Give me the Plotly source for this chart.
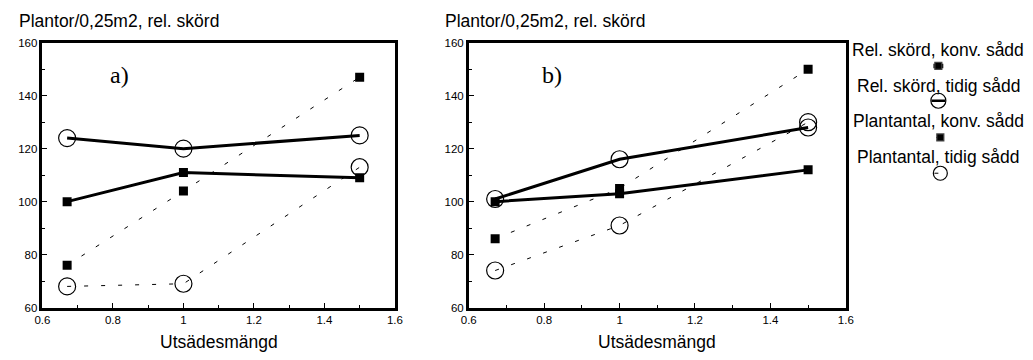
import plotly.graph_objects as go

x_vals = [0.67, 1.0, 1.5]

# Panel a)
a_rel_konv = [100, 111, 109]
a_rel_tidig = [124, 120, 125]
a_plant_konv = [76, 104, 147]
a_plant_tidig = [68, 69, 113]

# Panel b)
b_rel_konv = [100, 103, 112]
b_rel_tidig = [101, 116, 128]
b_plant_konv = [86, 105, 150]
b_plant_tidig = [74, 91, 130]

series_names = ["Rel. skörd, konv. sådd", "Rel. skörd, tidig sådd",
                "Plantantal, konv. sådd", "Plantantal, tidig sådd"]
panel_labels = ["a)", "b)"]
y_title = "Plantor/0,25m2, rel. skörd"
x_title = "Utsädesmängd"

W, H = 1033, 360
FONT = "Liberation Sans, Arial, sans-serif"
DASH = "4px,13px"
TXT = 17.5

fig = go.Figure()

def add_panel(xa, ya, rk, rt, pk, pt):
    fig.add_trace(go.Scatter(x=x_vals, y=pk, mode="lines+markers", xaxis=xa, yaxis=ya,
                             line=dict(color="black", width=1, dash=DASH),
                             marker=dict(symbol="square", size=9, color="black"),
                             showlegend=False))
    fig.add_trace(go.Scatter(x=x_vals, y=pt, mode="lines+markers", xaxis=xa, yaxis=ya,
                             line=dict(color="black", width=1, dash=DASH),
                             marker=dict(symbol="circle-open", size=17, color="black",
                                         line=dict(width=1.2)),
                             showlegend=False))
    fig.add_trace(go.Scatter(x=x_vals, y=rk, mode="lines+markers", xaxis=xa, yaxis=ya,
                             line=dict(color="black", width=3),
                             marker=dict(symbol="square", size=9, color="black"),
                             showlegend=False))
    fig.add_trace(go.Scatter(x=x_vals, y=rt, mode="lines+markers", xaxis=xa, yaxis=ya,
                             line=dict(color="black", width=3),
                             marker=dict(symbol="circle-open", size=17, color="black",
                                         line=dict(width=1.2)),
                             showlegend=False))

add_panel("x", "y", a_rel_konv, a_rel_tidig, a_plant_konv, a_plant_tidig)
add_panel("x2", "y2", b_rel_konv, b_rel_tidig, b_plant_konv, b_plant_tidig)

# legend glyphs on a hidden helper axis over the legend area, in pixel units
LX0 = 860
def leg_line(x0, x1, y, w):
    fig.add_trace(go.Scatter(x=[x0, x1], y=[y, y], mode="lines", xaxis="x3", yaxis="y3",
                             line=dict(color="black", width=w), showlegend=False))

def leg_marker(x, y, sym, size):
    fig.add_trace(go.Scatter(x=[x], y=[y], mode="markers", xaxis="x3", yaxis="y3",
                             marker=dict(symbol=sym, size=size, color="black", line=dict(width=1.2)),
                             showlegend=False))

leg_line(940, 950, 62, 4.5)
leg_marker(945, 62, "square", 7)
leg_line(938, 952, 98, 2.5)
leg_marker(945, 98, "circle-open", 15)
leg_line(943, 950, 136, 1)
leg_marker(947, 136, "square", 7)
leg_line(941, 945, 173, 1)
leg_marker(947, 173, "circle-open", 14)

def xaxis_cfg(domain):
    return dict(domain=domain, range=[0.6, 1.6], dtick=0.2, tick0=0.6,
                showgrid=False, zeroline=False, showline=True, linecolor="black",
                linewidth=2.5, mirror=True, ticks="inside", ticklen=5, tickwidth=1,
                tickcolor="black",
                minor=dict(dtick=0.1, ticks="inside", ticklen=3, tickcolor="black"),
                tickfont=dict(family=FONT, size=11.5, color="black"))

def yaxis_cfg(domain, anchor):
    return dict(domain=domain, range=[60, 160], dtick=20, anchor=anchor,
                showgrid=False, zeroline=False, showline=True, linecolor="black",
                linewidth=2.5, mirror=True, ticks="inside", ticklen=5, tickwidth=1,
                tickcolor="black",
                minor=dict(dtick=10, ticks="inside", ticklen=3, tickcolor="black"),
                tickfont=dict(family=FONT, size=11.5, color="black"))

ydom = [48 / H, 1 - 38 / H]
xdom1 = [35 / W, 393 / W]
xdom2 = [468 / W, 851 / W]

fig.update_layout(
    width=W, height=H,
    margin=dict(l=0, r=0, t=0, b=0),
    paper_bgcolor="white", plot_bgcolor="rgba(0,0,0,0)",
    xaxis=dict(**xaxis_cfg(xdom1), anchor="y"),
    yaxis=yaxis_cfg(ydom, "x"),
    xaxis2=dict(**xaxis_cfg(xdom2), anchor="y2"),
    yaxis2=yaxis_cfg(ydom, "x2"),
    xaxis3=dict(domain=[LX0 / W, 1], range=[LX0, W], visible=False, anchor="y3"),
    yaxis3=dict(domain=[0, 1], range=[H, 0], visible=False, anchor="x3"),
    showlegend=False,
)

annotations = []
for xd in (xdom1, xdom2):
    annotations.append(dict(x=xd[0] - 26 / W, y=1 - 16 / H, xref="paper", yref="paper",
                            text=y_title, showarrow=False, xanchor="left", yanchor="middle",
                            font=dict(family=FONT, size=TXT, color="black")))
    annotations.append(dict(x=(xd[0] + xd[1]) / 2, y=1 - 348 / H, xref="paper", yref="paper",
                            text=x_title, showarrow=False, xanchor="center", yanchor="middle",
                            font=dict(family=FONT, size=TXT, color="black")))
annotations.append(dict(x=0.82, y=148, xref="x", yref="y", text=panel_labels[0], showarrow=False,
                        font=dict(family="Liberation Serif, Times New Roman, serif", size=24, color="black")))
annotations.append(dict(x=0.82, y=148, xref="x2", yref="y2", text=panel_labels[1], showarrow=False,
                        font=dict(family="Liberation Serif, Times New Roman, serif", size=24, color="black")))
for name, ypix in zip(series_names, [45, 83, 119, 156]):
    annotations.append(dict(x=945 / W, y=1 - ypix / H, xref="paper", yref="paper", text=name,
                            showarrow=False, xanchor="center", yanchor="middle",
                            font=dict(family=FONT, size=TXT, color="black")))
fig.update_layout(annotations=annotations)

fig.write_html("out.html")
